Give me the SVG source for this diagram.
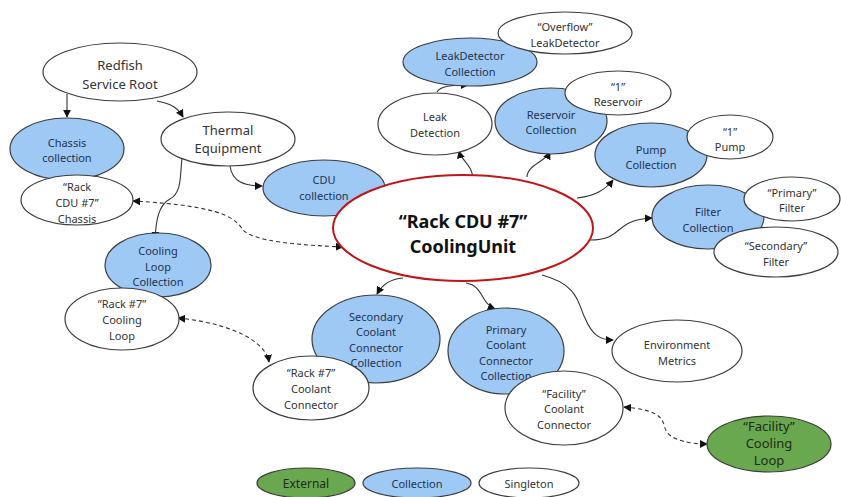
<svg xmlns="http://www.w3.org/2000/svg" width="841" height="497" viewBox="0 0 841 497">
<style>
.coll{fill:#9ec9f5;stroke:#3d3d3d;stroke-width:1.2}
.single{fill:#ffffff;stroke:#3d3d3d;stroke-width:1.2}
.ext{fill:#6aa84f;stroke:#3d3d3d;stroke-width:1.2}
.main{fill:#ffffff;stroke:#c0161b;stroke-width:2}
text{font-family:"Noto Sans","DejaVu Sans",sans-serif;text-anchor:middle;dominant-baseline:central}
.t{font-size:11px;fill:#333333}
.tc{font-size:11px;fill:#22324f}
.tl{font-size:13px;fill:#333333}
.tm{font-size:18px;font-weight:bold;fill:#111111}
.tg{font-size:13px;fill:#1f2a18}
.edge{fill:none;stroke:#333333;stroke-width:1.1}
.dash{fill:none;stroke:#333333;stroke-width:1.1;stroke-dasharray:4 3}
</style>
<defs>
<marker id="ah" viewBox="0 0 10 10" refX="9" refY="5" markerWidth="8" markerHeight="8" markerUnits="userSpaceOnUse" orient="auto-start-reverse">
<path d="M0,0 L10,5 L0,10 z" fill="#111111"/>
</marker>
</defs>
<rect width="841" height="497" fill="#ffffff"/>

<g id="connectors">
<path class="edge" d="M67,94 L67,117" marker-end="url(#ah)"/>
<path class="edge" d="M157,101 C172,104 178,108 183,117" marker-end="url(#ah)"/>
<path class="edge" d="M230,166 C232,182 245,186 262,186" marker-end="url(#ah)"/>
<path class="edge" d="M182,158 C180,175 182,193 170,199 C158,205 156,222 155,239" marker-end="url(#ah)"/>
<path class="edge" d="M473,180 C473,165 462,162 459,151" marker-end="url(#ah)"/>
<path class="edge" d="M437,92 C440,86 452,85 468,85" marker-end="url(#ah)"/>
<path class="edge" d="M527,177 C527,165 545,162 550,152" marker-end="url(#ah)"/>
<path class="edge" d="M577,198 C595,196 605,190 613,180" marker-end="url(#ah)"/>
<path class="edge" d="M590,240 C625,240 612,220 652,218" marker-end="url(#ah)"/>
<path class="edge" d="M403,278 C390,279 382,285 377,294" marker-end="url(#ah)"/>
<path class="edge" d="M466,283 C484,286 480,303 495,309" marker-end="url(#ah)"/>
<path class="edge" d="M542,275 C580,285 578,305 585,318 C592,335 600,340 613,340" marker-end="url(#ah)"/>
<path class="dash" d="M343,247 C300,245 255,242 243,230 C236,220 228,206 133,201" marker-start="url(#ah)" marker-end="url(#ah)"/>
<path class="dash" d="M178,318 C210,321 240,330 255,342 C263,348 268,355 269,362" marker-start="url(#ah)" marker-end="url(#ah)"/>
<path class="dash" d="M624,407 C655,410 662,415 665,428 C668,440 690,444 707,444" marker-start="url(#ah)" marker-end="url(#ah)"/>
</g>

<g id="redfish-root">
<ellipse class="single" cx="120" cy="72" rx="77" ry="29"/>
<text class="tl" x="120" y="65">Redfish</text>
<text class="tl" x="120" y="84">Service Root</text>
</g>

<g id="chassis-collection">
<ellipse class="coll" cx="67" cy="149" rx="57" ry="31"/>
<text class="tc" x="67" y="142">Chassis</text>
<text class="tc" x="67" y="157">collection</text>
</g>

<g id="rack-cdu-chassis">
<ellipse class="single" cx="77" cy="200" rx="56" ry="25"/>
<text class="t" x="77" y="186">“Rack</text>
<text class="t" x="77" y="202">CDU #7”</text>
<text class="t" x="77" y="218">Chassis</text>
</g>

<g id="thermal-equipment">
<ellipse class="single" cx="228" cy="139" rx="67" ry="27"/>
<text class="tl" x="228" y="130">Thermal</text>
<text class="tl" x="228" y="148">Equipment</text>
</g>

<g id="cdu-collection">
<ellipse class="coll" cx="324" cy="188" rx="61" ry="28"/>
<text class="tc" x="324" y="179">CDU</text>
<text class="tc" x="324" y="195">collection</text>
</g>

<g id="cooling-unit">
<ellipse class="main" cx="463" cy="228" rx="130" ry="53"/>
<text class="tm" x="463" y="221">“Rack CDU #7”</text>
<text class="tm" x="463" y="246">CoolingUnit</text>
</g>

<g id="leakdetector-collection">
<ellipse class="coll" cx="470" cy="62" rx="67" ry="24"/>
<text class="tc" x="470" y="55">LeakDetector</text>
<text class="tc" x="470" y="71">Collection</text>
</g>

<g id="overflow-leakdetector">
<ellipse class="single" cx="565" cy="33" rx="67" ry="21"/>
<text class="t" x="565" y="26">“Overflow”</text>
<text class="t" x="565" y="42">LeakDetector</text>
</g>

<g id="leak-detection">
<ellipse class="single" cx="435" cy="124" rx="57" ry="31"/>
<text class="t" x="435" y="116">Leak</text>
<text class="t" x="435" y="132">Detection</text>
</g>

<g id="reservoir-collection">
<ellipse class="coll" cx="551" cy="121" rx="56" ry="33"/>
<text class="tc" x="551" y="114">Reservoir</text>
<text class="tc" x="551" y="129">Collection</text>
</g>

<g id="reservoir-1">
<ellipse class="single" cx="618" cy="93" rx="53" ry="22"/>
<text class="t" x="618" y="86">“1”</text>
<text class="t" x="618" y="101">Reservoir</text>
</g>

<g id="pump-collection">
<ellipse class="coll" cx="651" cy="155" rx="56" ry="32"/>
<text class="tc" x="651" y="149">Pump</text>
<text class="tc" x="651" y="164">Collection</text>
</g>

<g id="pump-1">
<ellipse class="single" cx="730" cy="137" rx="43" ry="22"/>
<text class="t" x="730" y="131">“1”</text>
<text class="t" x="730" y="146">Pump</text>
</g>

<g id="filter-collection">
<ellipse class="coll" cx="708" cy="217" rx="56" ry="32"/>
<text class="tc" x="708" y="211">Filter</text>
<text class="tc" x="708" y="227">Collection</text>
</g>

<g id="primary-filter">
<ellipse class="single" cx="792" cy="199" rx="48" ry="22"/>
<text class="t" x="792" y="192">“Primary”</text>
<text class="t" x="792" y="207">Filter</text>
</g>

<g id="secondary-filter">
<ellipse class="single" cx="776" cy="252" rx="62" ry="25"/>
<text class="t" x="776" y="245">“Secondary”</text>
<text class="t" x="776" y="261">Filter</text>
</g>

<g id="cooling-loop-collection">
<ellipse class="coll" cx="158" cy="265" rx="53" ry="32"/>
<text class="tc" x="158" y="250">Cooling</text>
<text class="tc" x="158" y="266">Loop</text>
<text class="tc" x="158" y="281">Collection</text>
</g>

<g id="rack7-cooling-loop">
<ellipse class="single" cx="122" cy="319" rx="57" ry="31"/>
<text class="t" x="122" y="303">“Rack #7”</text>
<text class="t" x="122" y="319">Cooling</text>
<text class="t" x="122" y="335">Loop</text>
</g>

<g id="secondary-coolant-connector-collection">
<ellipse class="coll" cx="376" cy="339" rx="64" ry="44"/>
<text class="tc" x="376" y="316">Secondary</text>
<text class="tc" x="376" y="331">Coolant</text>
<text class="tc" x="376" y="347">Connector</text>
<text class="tc" x="376" y="362">Collection</text>
</g>

<g id="rack7-coolant-connector">
<ellipse class="single" cx="311" cy="388" rx="58" ry="32"/>
<text class="t" x="311" y="372">“Rack #7”</text>
<text class="t" x="311" y="388">Coolant</text>
<text class="t" x="311" y="404">Connector</text>
</g>

<g id="primary-coolant-connector-collection">
<ellipse class="coll" cx="506" cy="351" rx="58" ry="43"/>
<text class="tc" x="506" y="329">Primary</text>
<text class="tc" x="506" y="344">Coolant</text>
<text class="tc" x="506" y="360">Connector</text>
<text class="tc" x="506" y="375">Collection</text>
</g>

<g id="facility-coolant-connector">
<ellipse class="single" cx="564" cy="408" rx="59" ry="37"/>
<text class="t" x="564" y="393">“Facility”</text>
<text class="t" x="564" y="408">Coolant</text>
<text class="t" x="564" y="424">Connector</text>
</g>

<g id="environment-metrics">
<ellipse class="single" cx="677" cy="351" rx="65" ry="31"/>
<text class="t" x="677" y="344">Environment</text>
<text class="t" x="677" y="360">Metrics</text>
</g>

<g id="facility-cooling-loop">
<ellipse class="ext" cx="769" cy="444" rx="62" ry="28"/>
<text class="tg" x="769" y="426">“Facility”</text>
<text class="tg" x="769" y="443">Cooling</text>
<text class="tg" x="769" y="460">Loop</text>
</g>

<g id="legend-external">
<ellipse class="ext" cx="306" cy="483" rx="49" ry="15"/>
<text class="tg" x="306" y="483" style="font-size:12px">External</text>
</g>

<g id="legend-collection">
<ellipse class="coll" cx="417" cy="483" rx="54" ry="15"/>
<text class="tc" x="417" y="483">Collection</text>
</g>

<g id="legend-singleton">
<ellipse class="single" cx="529" cy="483" rx="50" ry="15"/>
<text class="t" x="529" y="483">Singleton</text>
</g>
</svg>
